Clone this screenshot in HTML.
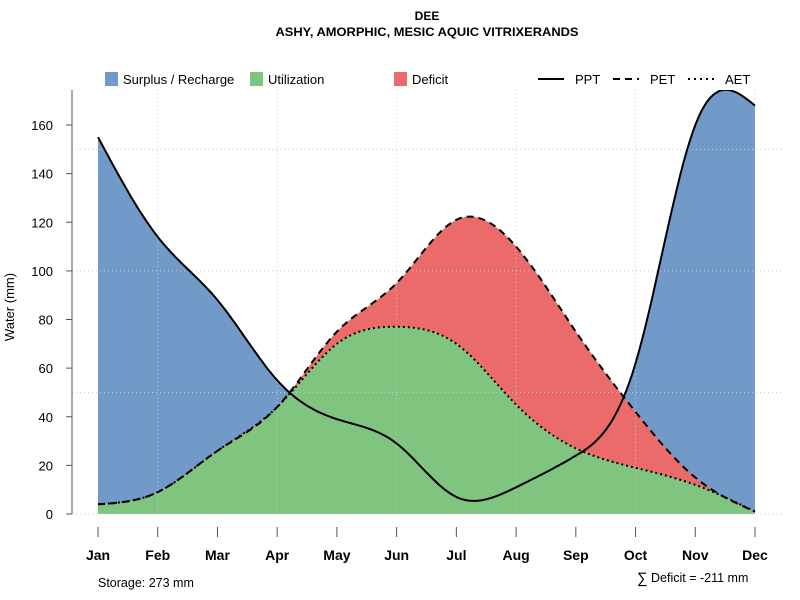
<!DOCTYPE html>
<html><head><meta charset="utf-8"><style>
body{margin:0;background:#fff}
svg{display:block;font-family:"Liberation Sans",sans-serif}
</style></head><body>
<svg id="c" width="800" height="600">
<text x="427" y="20" text-anchor="middle" font-size="12" font-weight="bold">DEE</text>
<text x="427" y="36" text-anchor="middle" font-size="12" font-weight="bold" textLength="303" lengthAdjust="spacingAndGlyphs">ASHY, AMORPHIC, MESIC AQUIC VITRIXERANDS</text>
<g id="legend" font-size="13">
<rect x="105" y="72" width="13" height="14" fill="#729ac8"/>
<text x="123" y="84">Surplus / Recharge</text>
<rect x="250" y="72" width="13" height="14" fill="#7fc57f"/>
<text x="268" y="84">Utilization</text>
<rect x="394" y="72" width="13" height="14" fill="#eb6b6b"/>
<text x="412" y="84">Deficit</text>
<line x1="538" y1="79" x2="564" y2="79" stroke="#000" stroke-width="2"/>
<text x="575" y="84">PPT</text>
<line x1="613" y1="79" x2="639" y2="79" stroke="#000" stroke-width="2" stroke-dasharray="7,5"/>
<text x="650" y="84">PET</text>
<line x1="688" y1="79" x2="714" y2="79" stroke="#000" stroke-width="2" stroke-dasharray="2,4"/>
<text x="725" y="84">AET</text>
</g>
<defs><clipPath id="clip"><rect x="72" y="90" width="720" height="430"/></clipPath></defs>
<g id="plot" clip-path="url(#clip)"></g>
<g id="axes"></g>
<text transform="translate(14,307) rotate(-90)" text-anchor="middle" font-size="13">Water (mm)</text>
<text x="98" y="587" font-size="12.5">Storage: 273 mm</text>
<text x="637" y="583" font-size="15">∑</text>
<text x="651" y="582" font-size="12.5">Deficit = -211 mm</text>
</svg>
<script>
const months=["Jan","Feb","Mar","Apr","May","Jun","Jul","Aug","Sep","Oct","Nov","Dec"];
const ppt=[155,114,88,55,39,29,7,11,24,62,160,168];
const pet=[4,9,26,44,75,95,121,110,75,42,15,1];
const aet=[4,9,26,44,70,77,70,45,27,19,12,1];
const yTicks=[0,20,40,60,80,100,120,140,160];
const gridY=[0,50,100,150];
const NS="http://www.w3.org/2000/svg";
const X=i=>98+i*(755-98)/11;
const Y=v=>514-v*(514-125)/160;
function el(t,a,p){const e=document.createElementNS(NS,t);for(const k in a)e.setAttribute(k,a[k]);p.appendChild(e);return e;}
function curve(d){
  const n=d.length,M=new Array(n).fill(0);
  // natural cubic spline, unit spacing: solve tridiagonal
  const a=[],b=[],c=[],r=[];
  for(let i=1;i<n-1;i++){a.push(1);b.push(4);c.push(1);r.push(6*(d[i+1]-2*d[i]+d[i-1]));}
  const m=r.length;
  for(let i=1;i<m;i++){const w=a[i]/b[i-1];b[i]-=w*c[i-1];r[i]-=w*r[i-1];}
  const s=new Array(m);s[m-1]=r[m-1]/b[m-1];
  for(let i=m-2;i>=0;i--)s[i]=(r[i]-c[i]*s[i+1])/b[i];
  for(let i=0;i<m;i++)M[i+1]=s[i];
  const pts=[];
  for(let i=0;i<n-1;i++){for(let k=0;k<20;k++){const t=k/20,u=1-t;
    const v=u*d[i]+t*d[i+1]+((u*u*u-u)*M[i]+(t*t*t-t)*M[i+1])/6;
    pts.push([X(i+t),Y(v)]);}}
  pts.push([X(n-1),Y(d[n-1])]);return pts;}
const P=curve(ppt),E=curve(pet),A=curve(aet);
const str=p=>p.map(q=>q[0].toFixed(1)+","+q[1].toFixed(1)).join(" ");
const plot=document.getElementById("plot"),axes=document.getElementById("axes");
let g;
const base=[[X(11),Y(0)],[X(0),Y(0)]];
g=el("polygon",{points:str(P.concat(base)),fill:"#729ac8"},plot);


g=el("polygon",{points:str(A.concat(base)),fill:"#7fc57f"},plot);


g=el("polygon",{points:str(E.concat(A.slice().reverse())),fill:"#eb6b6b"},plot);


gridY.forEach(v=>{g=el("line",{x1:72,y1:Y(v),x2:782,y2:Y(v),stroke:"#ccc","stroke-dasharray":"1,3"},plot);

});
months.forEach((m,i)=>{if(i%2==1){g=el("line",{x1:X(i),y1:90,x2:X(i),y2:514,stroke:"#ccc","stroke-dasharray":"1,3"},plot);

}});
g=el("polyline",{points:str(A),fill:"none",stroke:"#000","stroke-width":2,"stroke-dasharray":"2,3"},plot);


g=el("polyline",{points:str(E),fill:"none",stroke:"#000","stroke-width":2,"stroke-dasharray":"7,5"},plot);


g=el("polyline",{points:str(P),fill:"none",stroke:"#000","stroke-width":2},plot);


g=el("line",{x1:72,y1:90,x2:72,y2:Y(0),stroke:"#555"},axes);


yTicks.forEach(v=>{g=el("line",{x1:66,y1:Y(v),x2:72,y2:Y(v),stroke:"#555"},axes);


g=el("text",{x:53,y:Y(v)+5,"text-anchor":"end","font-size":13},axes);g.textContent=v;

});
months.forEach((m,i)=>{g=el("line",{x1:X(i),y1:527,x2:X(i),y2:537,stroke:"#555"},axes);


g=el("text",{x:X(i),y:560,"text-anchor":"middle","font-size":14,"font-weight":"bold"},axes);g.textContent=m;

});
</script>
</body></html>
